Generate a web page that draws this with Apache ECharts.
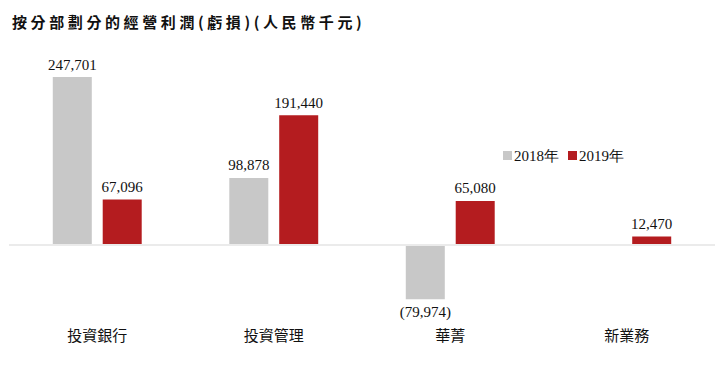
<!DOCTYPE html>
<html><head><meta charset="utf-8">
<script src="https://cdn.jsdelivr.net/npm/echarts@6/dist/echarts.min.js"></script>
<style>html,body{margin:0;padding:0;background:#fff}#c{width:728px;height:373px}</style>
</head><body><div id="c"></div>
<script>
const titleText = '按分部劃分的經營利潤(虧損)(人民幣千元)';
const categories = ['投資銀行', '投資管理', '華菁', '新業務'];
const seriesNames = ['2018年', '2019年'];
const values2018 = [247701, 98878, -79974, null];
const values2019 = [67096, 191440, 65080, 12470];
const colors = ['#c8c8c8', '#b41c1f'];

function fmt(v) {
  const s = Math.abs(v).toLocaleString('en-US');
  return v < 0 ? '(' + s + ')' : s;
}
const serif = '"Liberation Serif", "Times New Roman", serif';
const chart = echarts.init(document.getElementById('c'), null, { renderer: 'svg' });
const mkSeries = (name, data, color, withLine) => ({
  name, type: 'bar', data, barWidth: 39, barGap: '28%',
  itemStyle: { color },
  label: {
    show: true, position: 'top', distance: 5,
    fontFamily: serif, fontSize: 15, color: '#111',
    formatter: p => p.value == null ? '' : fmt(p.value)
  },
  markLine: withLine ? {
    silent: true, symbol: 'none', label: { show: false },
    lineStyle: { color: '#ebebeb', width: 2, type: 'solid' },
    data: [{ yAxis: 0 }]
  } : undefined
});
const s1 = mkSeries(seriesNames[0], values2018.map(v => v == null ? null : {
  value: v, label: v < 0 ? { position: 'bottom' } : undefined
}), colors[0], true);
const s2 = mkSeries(seriesNames[1], values2019, colors[1], false);
chart.setOption({
  animation: false,
  title: {
    text: titleText, left: 7, top: 9,
    textStyle: { fontFamily: '"Noto Sans CJK TC", sans-serif', fontSize: 15, fontWeight: 'bold', color: '#111' }
  },
  legend: {
    left: 498, top: 143, itemWidth: 9, itemHeight: 9, itemGap: 9,
    icon: 'rect',
    textStyle: { fontFamily: serif, fontSize: 15, color: '#111', padding: [0,0,0,-3] },
    data: seriesNames
  },
  grid: { left: 9, right: 13, top: 41.6, bottom: 60.2, containLabel: false },
  xAxis: {
    type: 'category', data: categories,
    axisLine: { show: false, onZero: false }, axisTick: { show: false },
    axisLabel: { margin: 14, fontFamily: '"Noto Sans CJK TC", serif', fontSize: 15, color: '#111' }
  },
  yAxis: {
    type: 'value', min: -100000, max: 300000, interval: 100000,
    show: false, splitLine: { show: false }
  },
  series: [s1, s2]
});
// widen the title's letter spacing to match the reference
document.querySelectorAll('#c text').forEach(t => {
  if (t.textContent === titleText) t.style.letterSpacing = '3.6px';
});
</script></body></html>
